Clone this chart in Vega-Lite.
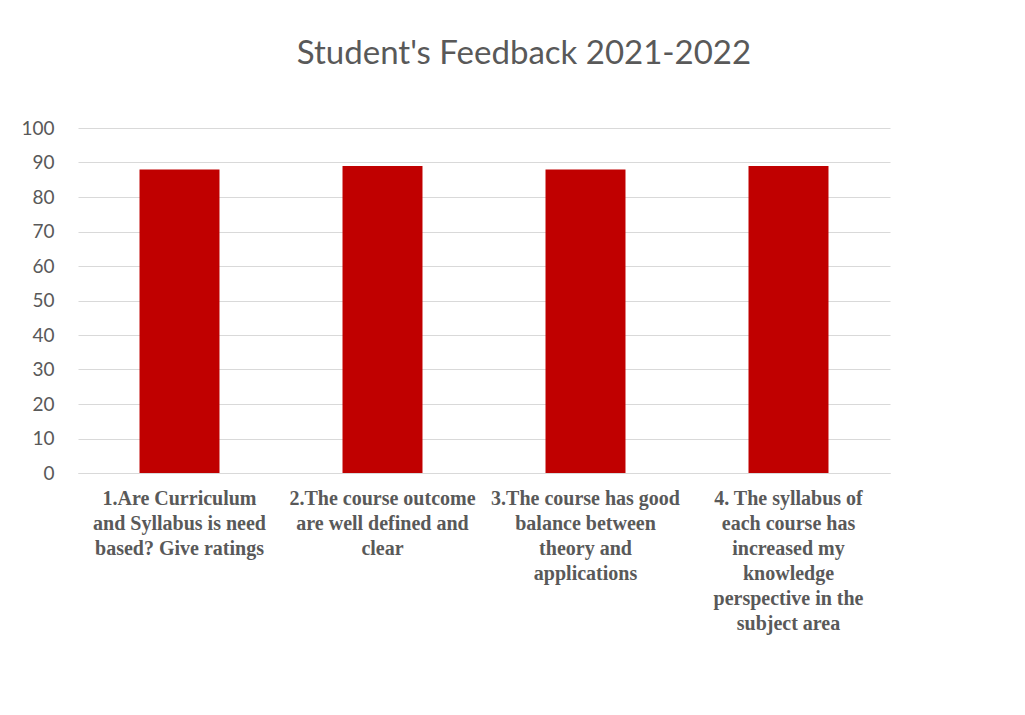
{
  "$schema": "https://vega.github.io/schema/vega-lite/v6.json",
  "width": 812,
  "height": 345,
  "autosize": {"type": "none"},
  "padding": {"left": 78, "top": 128, "right": 135, "bottom": 242},
  "background": "white",
  "title": {
    "text": "Student's Feedback 2021-2022",
    "font": "Lato",
    "fontSize": 33,
    "fontWeight": "normal",
    "color": "#595959",
    "anchor": "middle",
    "dx": 40,
    "offset": 48
  },
  "data": {
    "values": [
      {"question": "1.Are Curriculum|and Syllabus is need|based? Give ratings", "rating": 88},
      {"question": "2.The course outcome|are well defined and|clear", "rating": 89},
      {"question": "3.The course has good|balance between|theory and|applications", "rating": 88},
      {"question": "4. The syllabus of|each course has|increased my|knowledge|perspective  in the|subject area", "rating": 89}
    ]
  },
  "mark": {"type": "bar", "color": "#c00000"},
  "encoding": {
    "x": {
      "field": "question",
      "type": "nominal",
      "sort": null,
      "scale": {"paddingInner": 0.606, "paddingOuter": 0.303},
      "axis": {
        "title": null,
        "labelAngle": 0,
        "labelExpr": "split(datum.label, '|')",
        "labelFont": "Liberation Serif",
        "labelFontWeight": "bold",
        "labelFontSize": 20,
        "labelLineHeight": 25,
        "labelColor": "#595959",
        "labelPadding": 15,
        "labelLimit": 400,
        "labelBaseline": "top",
        "ticks": false,
        "domainColor": "#d9d9d9",
        "domainWidth": 1
      }
    },
    "y": {
      "field": "rating",
      "type": "quantitative",
      "scale": {"domain": [0, 100]},
      "axis": {
        "title": null,
        "values": [0, 10, 20, 30, 40, 50, 60, 70, 80, 90, 100],
        "labelFont": "Lato",
        "labelFontSize": 19,
        "labelColor": "#595959",
        "labelPadding": 24,
        "ticks": false,
        "domain": false,
        "grid": true,
        "gridColor": "#d9d9d9",
        "gridWidth": 1
      }
    }
  },
  "config": {"view": {"stroke": null}}
}
